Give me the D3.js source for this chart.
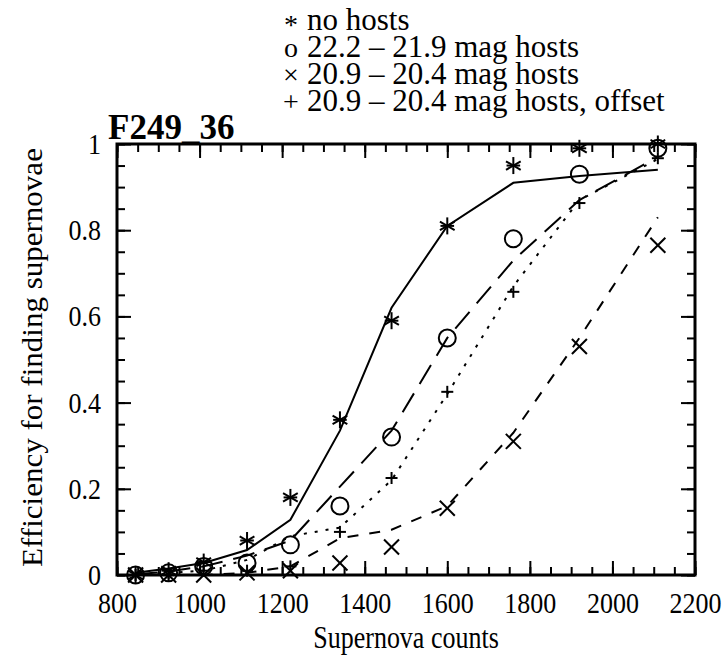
<!DOCTYPE html>
<html>
<head>
<meta charset="utf-8">
<script src="https://cdn.jsdelivr.net/npm/d3@7"></script>
<style>
  body { margin: 0; background: #fff; }
  svg { display: block; }
</style>
</head>
<body>
<div id="chart"></div>
<script>
// supernova counts shared by every series
var counts = [845, 925, 1010, 1115, 1220, 1340, 1465, 1600, 1760, 1920, 2110];

// measured efficiencies (markers) and model curves (lines)
var noHosts        = [0.0, 0.01, 0.03, 0.08, 0.18, 0.36, 0.59, 0.81, 0.95, 0.99, 1.0];
var noHostsFit     = [0.005, 0.015, 0.028, 0.058, 0.128, 0.335, 0.62, 0.81, 0.91, 0.926, 0.94];
var faintHosts     = [0.0, 0.005, 0.02, 0.028, 0.07, 0.16, 0.32, 0.55, 0.78, 0.93, 0.99];
var faintHostsFit  = [0.002, 0.008, 0.02, 0.045, 0.08, 0.205, 0.335, 0.55, 0.73, 0.87, 0.97];
var brightHosts    = [0.0, 0.0, 0.0, 0.005, 0.01, 0.028, 0.065, 0.155, 0.31, 0.53, 0.765];
var brightHostsFit = [0.0, 0.0, 0.0, 0.005, 0.02, 0.085, 0.105, 0.16, 0.33, 0.55, 0.83];
var offsetHosts    = [0.0, 0.0, 0.01, 0.01, 0.02, 0.1, 0.225, 0.425, 0.657, 0.863, 0.967];
var offsetHostsFit = [0.0, 0.005, 0.01, 0.035, 0.09, 0.11, 0.22, 0.42, 0.67, 0.87, 0.965];

var xTicks = [800, 1000, 1200, 1400, 1600, 1800, 2000, 2200];
var yTicks = [0, 0.2, 0.4, 0.6, 0.8, 1];
var yTickLabels = ["0", "0.2", "0.4", "0.6", "0.8", "1"];

var legendSymbols = ["*", "o", "\u00d7", "+"];
var legendLabels = ["no hosts", "22.2 \u2013 21.9 mag hosts", "20.9 \u2013 20.4 mag hosts",
                    "20.9 \u2013 20.4 mag hosts, offset"];

var FONT = "Liberation Serif";
var W = 727, H = 655;
var margin = {top: 144, right: 32, bottom: 80, left: 117};
var width = W - margin.left - margin.right,
    height = H - margin.top - margin.bottom;

var svg = d3.select("#chart").append("svg")
    .attr("width", W)
    .attr("height", H);

var g = svg.append("g")
    .attr("transform", "translate(" + margin.left + "," + margin.top + ")");

var xScale = d3.scaleLinear().domain([800, 2200]).range([0, width]);
var yScale = d3.scaleLinear().domain([0, 1]).range([height, 0]);

var xMinor = d3.range(800, 2201, 50);
var yMinor = d3.range(0, 1.001, 0.05);

function styleAxis(sel) {
    sel.select(".domain").remove();
    sel.selectAll("line").attr("stroke", "#000").attr("stroke-width", 2);
    sel.selectAll("text")
        .attr("font-family", FONT)
        .attr("font-size", 26)
        .attr("fill", "#000");
}

// minor ticks on all four sides
g.append("g").attr("transform", "translate(0," + height + ")")
    .call(d3.axisBottom(xScale).tickValues(xMinor).tickSize(-8).tickFormat(""))
    .call(styleAxis);
g.append("g")
    .call(d3.axisTop(xScale).tickValues(xMinor).tickSize(-8).tickFormat(""))
    .call(styleAxis);
g.append("g")
    .call(d3.axisLeft(yScale).tickValues(yMinor).tickSize(-8).tickFormat(""))
    .call(styleAxis);
g.append("g").attr("transform", "translate(" + width + ",0)")
    .call(d3.axisRight(yScale).tickValues(yMinor).tickSize(-8).tickFormat(""))
    .call(styleAxis);

// major ticks with labels (labels slightly stretched vertically like the scan)
g.append("g").attr("transform", "translate(0," + height + ")")
    .call(d3.axisBottom(xScale).tickValues(xTicks).tickSize(-14).tickFormat(d3.format("d")))
    .call(styleAxis)
    .selectAll("text")
    .attr("y", 0).attr("dy", null)
    .attr("transform", "translate(0,38) scale(1,1.15)");
g.append("g")
    .call(d3.axisTop(xScale).tickValues(xTicks).tickSize(-14).tickFormat(""))
    .call(styleAxis);
g.append("g")
    .call(d3.axisLeft(yScale).tickValues(yTicks).tickSize(-14).tickPadding(16)
        .tickFormat(function(d, i) { return yTickLabels[i]; }))
    .call(styleAxis)
    .selectAll("text")
    .attr("transform", "scale(1,1.15)");
g.append("g").attr("transform", "translate(" + width + ",0)")
    .call(d3.axisRight(yScale).tickValues(yTicks).tickSize(-14).tickFormat(""))
    .call(styleAxis);

// frame
g.append("rect")
    .attr("width", width).attr("height", height)
    .attr("fill", "none").attr("stroke", "#000").attr("stroke-width", 3);

function series(vals) {
    return counts.map(function(c, i) { return {x: c, y: vals[i]}; });
}

var line = d3.line()
    .x(function(d) { return xScale(d.x); })
    .y(function(d) { return yScale(d.y); });

var fits = [
    {data: noHostsFit, dash: null},
    {data: faintHostsFit, dash: "22,11"},
    {data: brightHostsFit, dash: "11,11"},
    {data: offsetHostsFit, dash: "3,8"}
];
fits.forEach(function(f) {
    g.append("path")
        .datum(series(f.data))
        .attr("d", line)
        .attr("fill", "none")
        .attr("stroke", "#000")
        .attr("stroke-width", 2)
        .attr("stroke-dasharray", f.dash);
});

function drawMarker(sel, type, s) {
    if (type == "star") {
        [0, 60, 120].forEach(function(a) {
            var r = a * Math.PI / 180;
            sel.append("line")
                .attr("x1", -s * Math.sin(r)).attr("y1", -s * Math.cos(r))
                .attr("x2", s * Math.sin(r)).attr("y2", s * Math.cos(r));
        });
        sel.append("line").attr("x1", -s * 0.8).attr("x2", s * 0.8).attr("y1", 0).attr("y2", 0);
    } else if (type == "circle") {
        sel.append("circle").attr("r", s).attr("fill", "none");
    } else if (type == "cross") {
        sel.append("line").attr("x1", -s).attr("y1", -s).attr("x2", s).attr("y2", s);
        sel.append("line").attr("x1", -s).attr("y1", s).attr("x2", s).attr("y2", -s);
    } else {
        sel.append("line").attr("x1", -s).attr("x2", s).attr("y1", 0).attr("y2", 0);
        sel.append("line").attr("y1", -s).attr("y2", s).attr("x1", 0).attr("x2", 0);
    }
}

var markers = [
    {data: noHosts, type: "star", size: 8.5},
    {data: faintHosts, type: "circle", size: 8.5},
    {data: brightHosts, type: "cross", size: 7.5},
    {data: offsetHosts, type: "plus", size: 6}
];
markers.forEach(function(m) {
    g.selectAll(null)
        .data(series(m.data))
        .enter().append("g")
        .attr("transform", function(d) { return "translate(" + xScale(d.x) + "," + yScale(d.y) + ")"; })
        .attr("stroke", "#000").attr("stroke-width", 2)
        .each(function() { drawMarker(d3.select(this), m.type, m.size); });
});

// axis titles
svg.append("text")
    .attr("transform", "translate(" + (margin.left + width / 2) + ",648) scale(1,1.2)")
    .attr("text-anchor", "middle")
    .attr("font-family", FONT)
    .attr("font-size", 26)
    .text("Supernova counts");

svg.append("text")
    .attr("transform", "translate(42," + (margin.top + height / 2 - 2) + ") rotate(-90) scale(1.07,1)")
    .attr("text-anchor", "middle")
    .attr("font-family", FONT)
    .attr("font-size", 29)
    .text("Efficiency for finding supernovae");

// field name
svg.append("text")
    .attr("x", 108).attr("y", 139)
    .attr("font-family", FONT)
    .attr("font-size", 35)
    .attr("font-weight", "bold")
    .text("F249_36");

// legend
legendLabels.forEach(function(lab, i) {
    var y = 30 + i * 27;
    svg.append("text").attr("x", 291).attr("y", y + (i == 0 ? 4 : 0))
        .attr("text-anchor", "middle")
        .attr("font-family", FONT).attr("font-size", 28)
        .text(legendSymbols[i]);
    svg.append("text").attr("x", 307).attr("y", y)
        .attr("font-family", FONT).attr("font-size", 31)
        .text(lab);
});
</script>
</body>
</html>
